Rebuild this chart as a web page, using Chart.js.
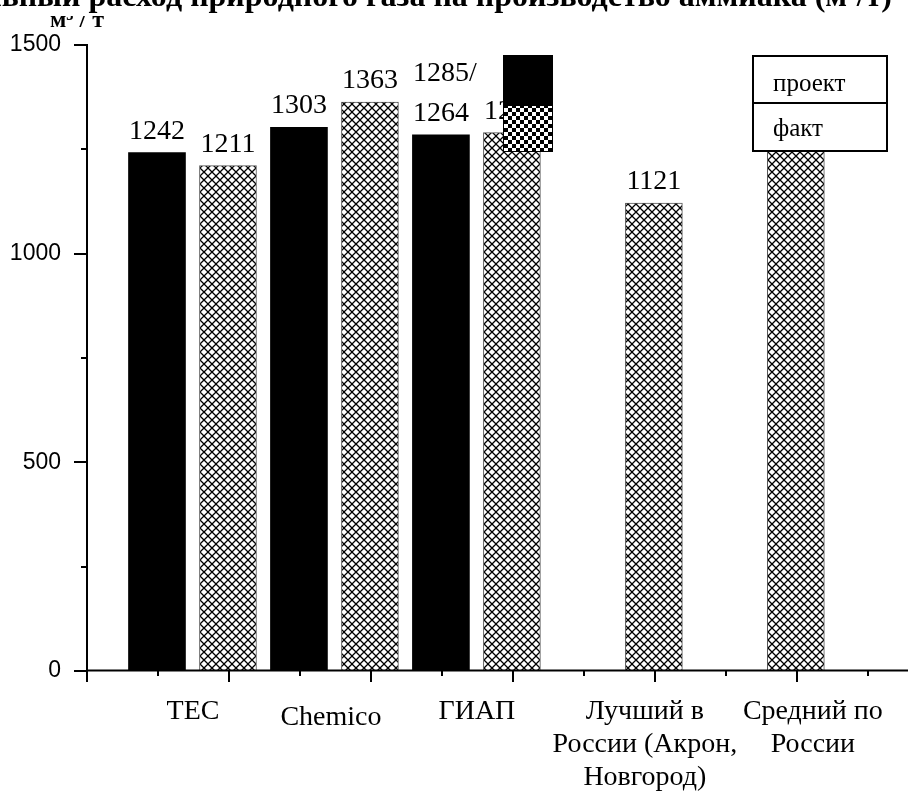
<!DOCTYPE html>
<html>
<head>
<meta charset="utf-8">
<script src="https://cdn.jsdelivr.net/npm/chart.js@4"></script>
<style>
  body { margin: 0; background: #fff; }
  canvas { display: block; }
</style>
</head>
<body>
<canvas id="gasChart" width="908" height="803"></canvas>
<script>
// categories and values (м³/т)
const categories = [
  ['ТЕС'],
  ['Chemico'],
  ['ГИАП'],
  ['Лучший в', 'России (Акрон,', 'Новгород)'],
  ['Средний по', 'России']
];
const projectValues = [1242, 1303, 1285, null, null];
const factValues = [1211, 1363, 1290, 1121, 1300];
const projectLabels = [['1242'], ['1303'], ['1285/', '1264'], null, null];
const factLabels = [['1211'], ['1363'], ['1290'], ['1121'], ['1300']];
const yTicks = [0, 500, 1000, 1500];
const seriesNames = ['проект', 'факт'];
const titleText = 'Удельный расход природного газа на производство аммиака (м³/т)';
const unitText = 'м³ / т';

// label shift from the major tick, px (text was placed by hand in the original)
const catShift = [-35, -39, -35, -9, 17];
const catDrop = [0, 6, 0, 0, 0];

const serif = '"Liberation Serif", "Times New Roman", serif';
const sans = '"Liberation Sans", Arial, sans-serif';

function makeHatch() {
  let c = document.createElement('canvas');
  c.width = 8; c.height = 8;
  let g = c.getContext('2d');
  g.fillStyle = '#fff';
  g.fillRect(0, 0, 8, 8);
  g.strokeStyle = '#000';
  g.lineWidth = 1.3;
  g.beginPath();
  g.moveTo(-1, -1); g.lineTo(9, 9);
  g.moveTo(9, -1); g.lineTo(-1, 9);
  g.stroke();
  return g.createPattern(c, 'repeat');
}

function makeChecker() {
  let c = document.createElement('canvas');
  c.width = 8; c.height = 8;
  let g = c.getContext('2d');
  g.fillStyle = '#fff';
  g.fillRect(0, 0, 8, 8);
  g.fillStyle = '#000';
  g.fillRect(0, 0, 4, 4);
  g.fillRect(4, 4, 4, 4);
  return g.createPattern(c, 'repeat');
}

let ctx0 = document.getElementById('gasChart').getContext('2d');
const hatch = makeHatch();
const checker = makeChecker();

// project bars on odd slots, fact bars on even slots
let projectData = [];
let projectText = [];
projectValues.forEach((v, i) => {
  if (v !== null) {
    projectData.push({ x: 2 * i + 1, y: v });
    projectText.push(projectLabels[i]);
  }
});
let factData = factValues.map((v, i) => ({ x: 2 * i + 2, y: v }));

// numbers over bars
const barLabels = {
  id: 'barLabels',
  afterDatasetsDraw(chart) {
    let ctx = chart.ctx;
    ctx.save();
    ctx.font = '28px ' + serif;
    ctx.fillStyle = '#000';
    ctx.textBaseline = 'alphabetic';
    [projectText, factLabels].forEach((texts, d) => {
      chart.getDatasetMeta(d).data.forEach((bar, i) => {
        let lines = texts[i];
        if (!lines) return;
        let last = lines[lines.length - 1];
        let left = bar.x - ctx.measureText(last).width / 2;
        ctx.textAlign = 'left';
        for (let k = 0; k < lines.length; k++) {
          let y = bar.y - 14 - (lines.length - 1 - k) * 40;
          ctx.fillText(lines[k], left, y);
        }
      });
    });
    ctx.restore();
  }
};

// axes, ticks, category text, legend and the cut title
const frame = {
  id: 'frame',
  afterDraw(chart) {
    let ctx = chart.ctx;
    let xs = chart.scales.x;
    let ys = chart.scales.y;
    let a = chart.chartArea;
    ctx.save();
    ctx.strokeStyle = '#000';
    ctx.lineWidth = 2;

    // axis lines
    ctx.beginPath();
    ctx.moveTo(a.left + 1, a.top);
    ctx.lineTo(a.left + 1, a.bottom);
    ctx.moveTo(a.left, a.bottom - 0.5);
    ctx.lineTo(a.right, a.bottom - 0.5);
    ctx.stroke();

    // y ticks
    ctx.beginPath();
    for (let v = 0; v <= 1500; v += 250) {
      let y = Math.round(ys.getPixelForValue(v));
      let len = v % 500 === 0 ? 14 : 7;
      ctx.moveTo(a.left + 2, y);
      ctx.lineTo(a.left + 2 - len, y);
    }
    // x ticks
    for (let t = 0; t <= 11; t++) {
      let x = Math.round(xs.getPixelForValue(t)) + 1;
      let len = t % 2 === 0 ? 11 : 5;
      ctx.moveTo(x, a.bottom - 1);
      ctx.lineTo(x, a.bottom + len);
    }
    ctx.stroke();

    // category names
    ctx.fillStyle = '#000';
    ctx.font = '28px ' + serif;
    ctx.textAlign = 'center';
    ctx.textBaseline = 'alphabetic';
    categories.forEach((lines, i) => {
      let x = xs.getPixelForValue(2 * i + 2) + catShift[i];
      lines.forEach((s, k) => {
        ctx.fillText(s, x, 719 + catDrop[i] + k * 33);
      });
    });

    // legend, as in the original figure
    ctx.fillStyle = '#000';
    ctx.fillRect(503, 55, 50, 50);
    ctx.fillStyle = checker;
    ctx.fillRect(503, 105, 50, 47);
    ctx.lineWidth = 1;
    ctx.strokeRect(503.5, 105.5, 49, 46);

    ctx.fillStyle = '#fff';
    ctx.fillRect(752, 55, 136, 96);
    ctx.lineWidth = 2;
    ctx.strokeRect(753, 56, 134, 95);
    ctx.beginPath();
    ctx.moveTo(753, 103);
    ctx.lineTo(887, 103);
    ctx.stroke();
    ctx.fillStyle = '#000';
    ctx.font = '25px ' + serif;
    ctx.textAlign = 'left';
    ctx.fillText(seriesNames[0], 773, 91);
    ctx.fillText(seriesNames[1], 773, 136);

    // title and unit, cut at the top of the image
    ctx.font = 'bold 32px ' + serif;
    ctx.textAlign = 'right';
    ctx.fillText(titleText, 892, 6);
    ctx.save();
    ctx.beginPath();
    ctx.rect(0, 16, 200, 20);
    ctx.clip();
    ctx.font = 'bold 24px ' + serif;
    ctx.textAlign = 'left';
    ctx.fillText(unitText, 50, 27);
    ctx.restore();

    ctx.restore();
  }
};

new Chart(ctx0, {
  type: 'bar',
  data: {
    datasets: [
      {
        label: seriesNames[0],
        data: projectData,
        backgroundColor: '#000',
        borderWidth: 0
      },
      {
        label: seriesNames[1],
        data: factData,
        backgroundColor: hatch,
        borderColor: '#555',
        borderWidth: 1
      }
    ]
  },
  options: {
    responsive: false,
    animation: false,
    barThickness: 57,
    layout: { padding: { top: 45, right: 0, left: 0, bottom: 0 } },
    plugins: {
      legend: { display: false },
      tooltip: { enabled: false }
    },
    scales: {
      x: {
        type: 'linear',
        stacked: true,
        offset: false,
        min: 0,
        max: 11.58,
        grid: { display: false },
        border: { display: false },
        ticks: { display: false },
        afterFit: s => { s.height = 132; }
      },
      y: {
        min: 0,
        max: 1500,
        grid: { display: false },
        border: { display: false },
        afterBuildTicks: s => { s.ticks = yTicks.map(v => ({ value: v })); },
        ticks: {
          padding: 17,
          color: '#000',
          font: { family: sans, size: 23 },
          callback: v => String(v)
        },
        afterFit: s => { s.width = 86; }
      }
    }
  },
  plugins: [barLabels, frame]
});
</script>
</body>
</html>
